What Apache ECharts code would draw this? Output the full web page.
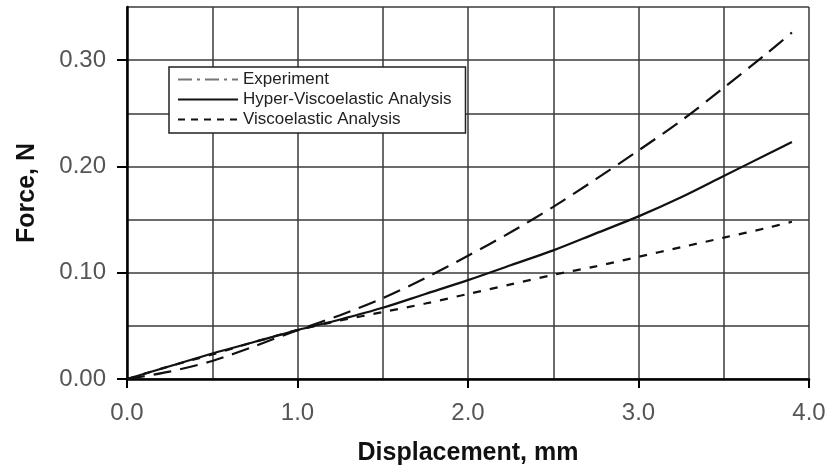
<!DOCTYPE html>
<html>
<head>
<meta charset="utf-8">
<title>Force vs Displacement</title>
<script src="https://cdn.jsdelivr.net/npm/echarts@6/dist/echarts.min.js"></script>
<style>
    html, body { margin: 0; padding: 0; background: #fff; }
    #chart { width: 830px; height: 471px; }
</style>
</head>
<body>
<div id="chart"></div>
<script>
// displacement, mm
var disp = [0, 0.25, 0.5, 0.75, 1.0, 1.25, 1.5, 1.75, 2.0, 2.25, 2.5, 2.75, 3.0, 3.25, 3.5, 3.75, 3.9];
// force, N
var experiment = [0, 0.007, 0.017, 0.031, 0.046, 0.060, 0.076, 0.095, 0.116, 0.138, 0.162, 0.188, 0.215, 0.243, 0.274, 0.306, 0.326];
var hyperVisco = [0, 0.012, 0.024, 0.035, 0.046, 0.056, 0.067, 0.080, 0.093, 0.107, 0.121, 0.137, 0.153, 0.171, 0.191, 0.211, 0.223];
var visco = [0, 0.012, 0.023, 0.035, 0.046, 0.055, 0.063, 0.071, 0.080, 0.089, 0.098, 0.106, 0.115, 0.124, 0.133, 0.142, 0.148];

var names = ['Experiment', 'Hyper-Viscoelastic Analysis', 'Viscoelastic Analysis'];
var xTicks = [0, 1, 2, 3, 4];
var yTicks = [0, 0.1, 0.2, 0.3];

var font = 'Liberation Sans, Arial, sans-serif';

function pairs(xs, ys) {
    var out = [];
    for (var i = 0; i < xs.length; i++) {
        out.push([xs[i], ys[i]]);
    }
    return out;
}

var chart = echarts.init(document.getElementById('chart'), null, { renderer: 'canvas' });

var gridLine = { show: true, lineStyle: { color: '#3a3a3a', width: 1.5 } };
// legend draws a circle on the line sample for line series, hide it
var noDot = { color: 'rgba(0,0,0,0)', borderColor: 'rgba(0,0,0,0)', borderWidth: 0 };

option = {
    animation: false,
    backgroundColor: '#fff',
    grid: { left: 127, right: 21, top: 7, bottom: 92, containLabel: false },
    legend: {
        orient: 'vertical',
        left: 169,
        top: 67,
        padding: [4, 14, 5, 8],
        itemGap: 3,
        itemWidth: 60,
        itemHeight: 14,
        backgroundColor: '#fff',
        borderColor: '#222',
        borderWidth: 1.5,
        borderRadius: 0,
        textStyle: { fontFamily: font, fontSize: 17, color: '#222' },
        data: [
            { name: names[0], itemStyle: noDot, lineStyle: { color: '#777', width: 2, type: [14, 5, 3, 5] } },
            { name: names[1], itemStyle: noDot, lineStyle: { color: '#111', width: 2, type: 'solid' } },
            { name: names[2], itemStyle: noDot, lineStyle: { color: '#111', width: 2, type: [7, 6] } }
        ]
    },
    xAxis: [
        {
            // grid every 0.5
            type: 'value', min: 0, max: 4, interval: 0.5, position: 'bottom',
            axisLine: { show: true, onZero: false, lineStyle: { color: '#000', width: 2.5 } },
            axisTick: { show: false },
            axisLabel: { show: false },
            splitLine: gridLine
        },
        {
            // ticks + labels every 1.0
            type: 'value', min: 0, max: 4, interval: 1, position: 'bottom', offset: 0,
            axisLine: { show: false, onZero: false },
            axisTick: { show: true, customValues: xTicks, length: 9, lineStyle: { color: '#000', width: 2 } },
            axisLabel: {
                show: true, customValues: xTicks, margin: 22,
                fontFamily: font, fontSize: 24, color: '#555',
                formatter: function (v) { return v.toFixed(1); }
            },
            splitLine: { show: false },
            name: 'Displacement, mm',
            nameLocation: 'middle',
            nameGap: 62,
            nameTextStyle: { fontFamily: font, fontSize: 25, fontWeight: 'bold', color: '#111' }
        }
    ],
    yAxis: [
        {
            type: 'value', min: 0, max: 0.35, interval: 0.05, position: 'left',
            axisLine: { show: true, onZero: false, lineStyle: { color: '#000', width: 2.5 } },
            axisTick: { show: false },
            axisLabel: { show: false },
            splitLine: gridLine
        },
        {
            type: 'value', min: 0, max: 0.35, interval: 0.1, position: 'left', offset: 0,
            axisLine: { show: false, onZero: false },
            axisTick: { show: true, customValues: yTicks, length: 10, lineStyle: { color: '#000', width: 2 } },
            axisLabel: {
                show: true, customValues: yTicks, margin: 21,
                fontFamily: font, fontSize: 24, color: '#555',
                formatter: function (v) { return v.toFixed(2); }
            },
            splitLine: { show: false },
            name: 'Force, N',
            nameLocation: 'middle',
            nameGap: 87,
            nameTextStyle: { fontFamily: font, fontSize: 25, fontWeight: 'bold', color: '#111' }
        }
    ],
    series: [
        {
            name: names[0], type: 'line', xAxisIndex: 0, yAxisIndex: 0,
            symbol: 'none', smooth: 0.3, z: 3,
            lineStyle: { color: '#111', width: 2.2, type: [18, 9] },
            data: pairs(disp, experiment)
        },
        {
            name: names[1], type: 'line', xAxisIndex: 0, yAxisIndex: 0,
            symbol: 'none', smooth: 0.3, z: 3,
            lineStyle: { color: '#111', width: 2.2, type: 'solid' },
            data: pairs(disp, hyperVisco)
        },
        {
            name: names[2], type: 'line', xAxisIndex: 0, yAxisIndex: 0,
            symbol: 'none', smooth: 0.3, z: 3,
            lineStyle: { color: '#111', width: 2.2, type: [8, 9] },
            data: pairs(disp, visco)
        }
    ]
};

chart.setOption(option);
</script>
</body>
</html>
